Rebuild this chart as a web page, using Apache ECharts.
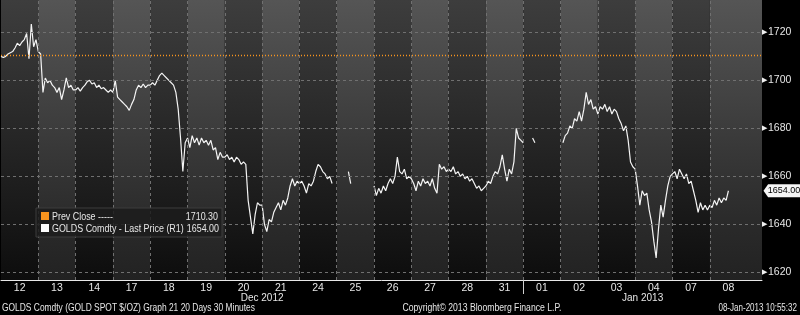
<!DOCTYPE html>
<html><head><meta charset="utf-8">
<script src="https://cdn.jsdelivr.net/npm/echarts@6/dist/echarts.min.js"></script>
<style>html,body{margin:0;padding:0;background:#000}#c{width:800px;height:315px}</style>
</head><body><div id="c"></div>
<script>
// ---- data ----
const dayLabels = ['12','13','14','17','18','19','20','21','24','25','26','27','28','31','01','02','03','04','07','08'];
const monthLabels = ['Dec 2012', 'Jan 2013'];
const monthStartDay = [0, 14];
const yTickValues = [1620,1630,1640,1650,1660,1670,1680,1690,1700,1710,1720,1730];
const yLabelValues = [1620,1640,1660,1680,1700,1720];
const prevClose = 1710.30;
const lastPrice = 1654.00;
const SAMPLES_PER_DAY = 16;

const dec12 = [1710,1709.5,1710,1711,1711.5,1712,1713.5,1715.5,1714.5,1716,1717,1719.5,1709,1723.5,1714,1717];
const dec13 = [1712,1711,1695,1701,1699,1700,1698,1697,1695,1697,1692,1696,1701,1697,1698,1696];
const dec14 = [1696,1697,1695.5,1697,1698,1699.5,1700,1698.5,1699,1697,1698,1696.5,1697,1696,1695,1696];
const dec17 = [1695,1700,1693,1692,1691,1690,1689,1687.5,1690,1692,1696,1698,1697,1698.5,1697,1698];
const dec18 = [1698,1699,1698,1700,1702,1703,1702,1701,1700,1699,1698,1695,1688,1676,1662,1674];
const dec19 = [1676,1672,1677,1674,1676,1673,1676,1674,1675,1673,1675,1671,1672,1667,1670,1668];
const dec20 = [1668,1669,1667,1668,1666,1668,1667,1665,1666,1665,1650,1643,1636,1644,1649,1648];
const dec21 = [1648,1640,1637,1642,1641,1645,1647,1649,1646,1650,1648,1651,1656,1659,1656,1658];
const dec24 = [1657,1658,1656,1653,1657,1656,1658,1662,1665,1664,1662,1661,1659,1660,1657,null];
const dec25 = [null,null,null,null,null,1662,1657,null,null,null,null,null,null,null,null,null];
const dec26 = [1656,1652,1655,1653,1656,1654,1657,1659,1657,1660,1668,1662,1661,1663,1659,1660];
const dec27 = [1659,1657,1654,1658,1656,1659,1657,1658,1656,1659,1655,1653,1665,1663,1664,1662];
const dec28 = [1663,1662,1664,1661,1662,1660,1661,1659,1660,1658,1659,1657,1655,1656,1654,1655];
const dec31 = [1656,1658,1657,1660,1662,1661,1664,1669,1663,1658,1663,1661,1666,1680,1676,1675];
const jan01 = [1674,null,null,null,1676,1674,null,null,null,null,null,null,null,null,null,null];
const jan02 = [null,1674,1677,1678,1681,1680,1684,1683,1687,1683,1688,1695,1690,1692,1688,1689];
const jan03 = [1686,1689,1688,1690,1687,1689,1686,1688,1687,1684,1682,1679,1681,1675,1666,1664];
const jan04 = [1663,1656,1648,1654,1652,1653,1646,1641,1633,1626,1638,1648,1643,1650,1656,1660];
const jan07 = [1661,1662,1659,1663,1661,1659,1661,1657,1658,1654,1650,1645,1649,1646,1648,1646];
const jan08 = [1648,1647,1650,1648,1651,1649,1651,1650,1654];

const days = [dec12,dec13,dec14,dec17,dec18,dec19,dec20,dec21,dec24,dec25,dec26,dec27,dec28,dec31,jan01,jan02,jan03,jan04,jan07,jan08];

// ---- build ----
const X_MAX = 20.4, Y_MIN = 1616.8, Y_MAX = 1733.5;
const priceData = [];
days.forEach((arr, k) => arr.forEach((v, j) => priceData.push([k + j / SAMPLES_PER_DAY, v == null ? '-' : v])));

const FONT = "'Liberation Sans',Arial,sans-serif";
const TXT = '#e6e6e6';
function grad(stops) {
  return {type:'linear', x:0, y:0, x2:0, y2:1, colorStops: stops.map(s => ({offset:s[0], color:s[1]}))};
}
const lightCol = grad([[0,'#555555'],[0.3,'#454545'],[0.55,'#373737'],[0.8,'#2a2a2a'],[1,'#222222']]);
const darkCol  = grad([[0,'#3d3d3d'],[0.3,'#2f2f2f'],[0.55,'#232323'],[0.8,'#171717'],[1,'#0d0d0d']]);

const bgAreas = days.map((_, k) => [
  {xAxis: k, itemStyle: {color: k % 2 ? lightCol : darkCol}},
  {xAxis: k === days.length - 1 ? X_MAX : k + 1}
]);
const gridLines = [];
for (let k = 1; k < days.length; k++) gridLines.push({xAxis: k});
yLabelValues.forEach(v => gridLines.push({yAxis: v}));

const monthMid = monthStartDay.map((s, i) => ((s + (i + 1 < monthStartDay.length ? monthStartDay[i + 1] : X_MAX)) / 2));

function txt(x, y, text, align, sx) {
  return {type: 'text', x: x, y: y, scaleX: sx, z: 11,
    style: {text: text, fill: TXT, font: '11px ' + FONT, align: align, verticalAlign: 'middle'}};
}

const chart = echarts.init(document.getElementById('c'), null, {renderer: 'canvas'});
chart.setOption({
  backgroundColor: '#000',
  animation: false,
  grid: {left: 1, right: 38, top: 0, bottom: 35, containLabel: false},
  xAxis: [{
    type: 'value', min: 0, max: X_MAX,
    axisLine: {show: true, onZero: false, lineStyle: {color: '#e8e8e8', width: 1}},
    axisTick: {show: false},
    splitLine: {show: false},
    axisLabel: {
      customValues: days.map((_, k) => k + 0.5),
      formatter: v => dayLabels[Math.floor(v)],
      color: TXT, fontFamily: FONT, fontSize: 10.5, margin: 3
    }
  }, {
    type: 'value', min: 0, max: X_MAX, position: 'bottom',
    axisLine: {show: false},
    axisTick: {show: true, customValues: [monthStartDay[1]], length: 14, lineStyle: {color: '#cfcfcf'}},
    splitLine: {show: false},
    axisLabel: {
      customValues: monthMid,
      formatter: v => monthLabels[monthMid.indexOf(v)],
      color: TXT, fontFamily: FONT, fontSize: 10, margin: 13
    }
  }],
  yAxis: {
    type: 'value', position: 'right', min: Y_MIN, max: Y_MAX,
    axisLine: {show: true, lineStyle: {color: '#e0e0e0'}},
    axisTick: {show: true, customValues: yTickValues, length: 4, lineStyle: {color: '#e0e0e0'}},
    splitLine: {show: false},
    axisLabel: {
      customValues: yLabelValues,
      formatter: v => '{t|▶}' + v,
      color: TXT, fontFamily: FONT, fontSize: 10.5, margin: 0,
      rich: {t: {fontSize: 7, color: '#f0f0f0', padding: [0, 1, 0, 0]}}
    }
  },
  series: [{
    type: 'line', name: 'bg', data: [], z: 1, silent: true,
    markArea: {silent: true, data: bgAreas}
  }, {
    type: 'line', name: 'grid', data: [], z: 2, silent: true,
    markLine: {silent: true, symbol: ['none','none'], label: {show: false},
      lineStyle: {color: '#707070', type: [3, 3], width: 1}, data: gridLines}
  }, {
    type: 'line', name: 'GOLDS Comdty', z: 3, data: priceData, showSymbol: false,
    connectNulls: false, lineStyle: {color: '#f4f4f4', width: 1.2}, silent: true,
    markLine: {silent: true, symbol: ['none','none'], label: {show: false},
      lineStyle: {color: '#f7931e', type: [1, 2], width: 1.3}, data: [{yAxis: prevClose}]},
    markPoint: {
      silent: true,
      data: [{coord: [X_MAX, lastPrice], value: lastPrice.toFixed(2)}],
      symbol: 'path://M0,6 L5,0 L40,0 L40,12 L5,12 Z', symbolSize: [37, 13], symbolKeepAspect: false,
      symbolOffset: [20, 0], itemStyle: {color: '#f5f5f5'},
      label: {show: true, position: 'inside', offset: [2, 0], color: '#000', fontFamily: FONT, fontSize: 9,
        formatter: p => p.value}
    }
  }],
  graphic: [
    {type: 'rect', shape: {x: 36, y: 208, width: 186, height: 29},
      style: {fill: 'rgba(28,28,28,0.85)', stroke: '#3c3c3c', lineWidth: 1}, z: 10},
    {type: 'rect', shape: {x: 41, y: 212, width: 8, height: 8}, style: {fill: '#f7931e'}, z: 11},
    {type: 'rect', shape: {x: 41, y: 224, width: 8, height: 8}, style: {fill: '#ffffff'}, z: 11},
    txt(52, 216.5, 'Prev Close -----', 'left', 0.81),
    txt(218, 216.5, prevClose.toFixed(2), 'right', 0.81),
    txt(52, 228.5, 'GOLDS Comdty - Last Price (R1)', 'left', 0.81),
    txt(219, 228.5, lastPrice.toFixed(2), 'right', 0.81),
    txt(2, 307.5, 'GOLDS Comdty (GOLD SPOT $/OZ) Graph 21 20 Days 30 Minutes', 'left', 0.765),
    txt(482, 307.5, 'Copyright\u00a9 2013 Bloomberg Finance L.P.', 'center', 0.786),
    txt(797, 307.5, '08-Jan-2013 10:55:32', 'right', 0.73)
  ]
});
</script>
</body></html>
